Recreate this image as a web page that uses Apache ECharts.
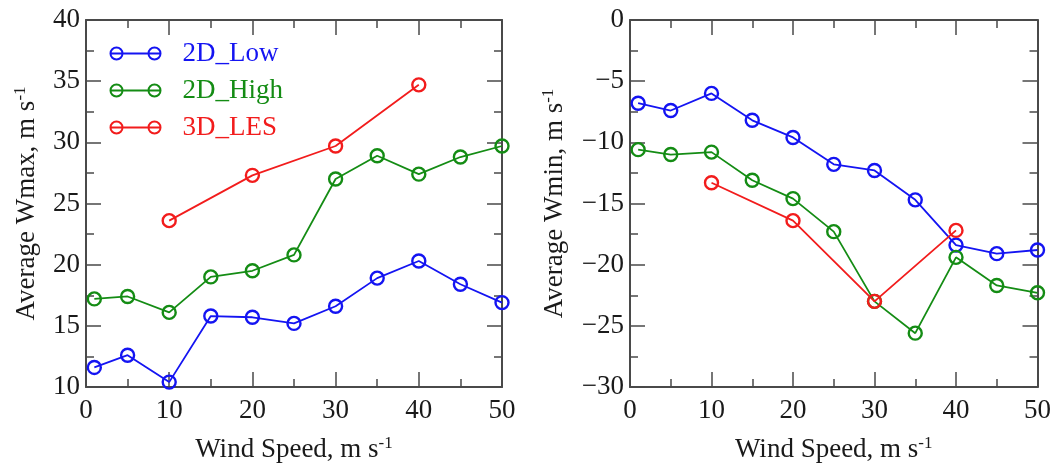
<!DOCTYPE html>
<html>
<head>
<meta charset="utf-8">
<script src="https://cdn.jsdelivr.net/npm/echarts@6/dist/echarts.min.js"></script>
<style>
html,body{margin:0;padding:0;background:#fff;}
#chart{width:1054px;height:470px;}
</style>
</head>
<body>
<div id="chart"></div>
<script>
// ---- data ----
var windFull = [1, 5, 10, 15, 20, 25, 30, 35, 40, 45, 50];
var windLES = [10, 20, 30, 40];
var seriesNames = ['2D_Low', '2D_High', '3D_LES'];

var wmaxLow  = [11.6, 12.6, 10.4, 15.8, 15.7, 15.2, 16.6, 18.9, 20.3, 18.4, 16.9];
var wmaxHigh = [17.2, 17.4, 16.1, 19.0, 19.5, 20.8, 27.0, 28.9, 27.4, 28.8, 29.7];
var wmaxLES  = [23.6, 27.3, 29.7, 34.7];

var wminLow  = [-6.8, -7.4, -6.0, -8.2, -9.6, -11.8, -12.3, -14.7, -18.4, -19.1, -18.8];
var wminHigh = [-10.6, -11.0, -10.8, -13.1, -14.6, -17.3, -23.0, -25.6, -19.4, -21.7, -22.3];
var wminLES  = [-13.3, -16.4, -23.0, -17.2];

var xTicks = [0, 10, 20, 30, 40, 50];
var leftYTicks = [10, 15, 20, 25, 30, 35, 40];
var rightYTicks = [-30, -25, -20, -15, -10, -5, 0];

// ---- style ----
var COLORS = ['#1414f2', '#148c14', '#f21c1c'];
var FONT = 'Liberation Serif';
var TXT = '#1a1a1a';
var FRAME = '#4a4a4a';
var FS = 27;

function pairs(xs, ys) { return xs.map(function (x, i) { return [x, ys[i]]; }); }

function mkSeries(name, data, ci, gi) {
  return {
    type: 'line', name: name, data: data,
    xAxisIndex: gi * 2, yAxisIndex: gi * 2,
    symbol: 'circle', symbolSize: 13,
    itemStyle: { color: 'rgba(0,0,0,0)', borderColor: COLORS[ci], borderWidth: 2.4 },
    lineStyle: { color: COLORS[ci], width: 1.8 },
    emphasis: { disabled: true },
    animation: false
  };
}

function richName(text) {
  return text + '{sup|-1}';
}
var nameStyle = {
  fontFamily: FONT, fontSize: FS, color: TXT, lineHeight: 30,
  rich: { sup: { fontFamily: FONT, fontSize: 17, color: TXT, verticalAlign: 'top', lineHeight: 18 } }
};

function xAxisPair(gi) {
  var base = {
    gridIndex: gi, type: 'value', min: xTicks[0], max: xTicks[xTicks.length - 1],
    interval: xTicks[1] - xTicks[0],
    axisLine: { show: true, onZero: false, lineStyle: { color: FRAME, width: 2 } },
    axisTick: { show: true, inside: true, length: 15, lineStyle: { color: FRAME, width: 1.5 } },
    minorTick: { show: true, splitNumber: 2, length: 8, lineStyle: { color: FRAME, width: 1.5 } },
    splitLine: { show: false }
  };
  var bottom = Object.assign({}, base, {
    position: 'bottom',
    axisLabel: { show: true, fontFamily: FONT, fontSize: FS, color: TXT, margin: 10 },
    name: richName('Wind Speed, m s'), nameLocation: 'middle', nameGap: 48,
    nameTextStyle: nameStyle
  });
  var top = Object.assign({}, base, { position: 'top', axisLabel: { show: false } });
  return [bottom, top];
}

function yAxisPair(gi, ticks, title, gap, fmt) {
  var base = {
    gridIndex: gi, type: 'value', min: ticks[0], max: ticks[ticks.length - 1],
    interval: ticks[1] - ticks[0],
    axisLine: { show: true, onZero: false, lineStyle: { color: FRAME, width: 2 } },
    axisTick: { show: true, inside: true, length: 15, lineStyle: { color: FRAME, width: 1.5 } },
    minorTick: { show: true, splitNumber: 2, length: 8, lineStyle: { color: FRAME, width: 1.5 } },
    splitLine: { show: false }
  };
  var left = Object.assign({}, base, {
    position: 'left',
    axisLabel: { show: true, fontFamily: FONT, fontSize: FS, color: TXT, margin: 6, formatter: fmt },
    name: richName(title), nameLocation: 'middle', nameGap: gap,
    nameTextStyle: nameStyle
  });
  var right = Object.assign({}, base, { position: 'right', axisLabel: { show: false } });
  return [left, right];
}

var minusFmt = function (v) { return String(v).replace('-', '\u2212'); };

var legendIcon = 'path://M0 6A6 6 0 1 0 12 6A6 6 0 1 0 0 6ZM38 6A6 6 0 1 0 50 6A6 6 0 1 0 38 6ZM0 6L50 6';

var option = {
  backgroundColor: '#ffffff',
  animation: false,
  grid: [
    { left: 86, right: 552, top: 20, bottom: 76 },
    { left: 630, right: 7, top: 20, bottom: 75 }
  ],
  xAxis: xAxisPair(0).concat(xAxisPair(1)),
  yAxis: yAxisPair(0, leftYTicks, 'Average Wmax, m s', 44)
    .concat(yAxisPair(1, rightYTicks, 'Average Wmin, m s', 60, minusFmt)),
  legend: {
    show: true, orient: 'vertical', left: 108, top: 40, padding: 0,
    itemWidth: 84, itemHeight: 12, itemGap: 10, symbolKeepAspect: true,
    selectedMode: false,
    textStyle: { fontFamily: FONT, fontSize: FS, lineHeight: 27 },
    data: seriesNames.map(function (n, i) {
      return {
        name: n, icon: legendIcon,
        itemStyle: { color: 'none', borderColor: COLORS[i], borderWidth: 2 },
        textStyle: { color: COLORS[i], fontFamily: FONT, fontSize: FS }
      };
    })
  },
  series: [
    mkSeries(seriesNames[0], pairs(windFull, wmaxLow), 0, 0),
    mkSeries(seriesNames[1], pairs(windFull, wmaxHigh), 1, 0),
    mkSeries(seriesNames[2], pairs(windLES, wmaxLES), 2, 0),
    mkSeries(seriesNames[0], pairs(windFull, wminLow), 0, 1),
    mkSeries(seriesNames[1], pairs(windFull, wminHigh), 1, 1),
    mkSeries(seriesNames[2], pairs(windLES, wminLES), 2, 1)
  ]
};

var chart = echarts.init(document.getElementById('chart'), null, { renderer: 'canvas' });
chart.setOption(option);
</script>
</body>
</html>
